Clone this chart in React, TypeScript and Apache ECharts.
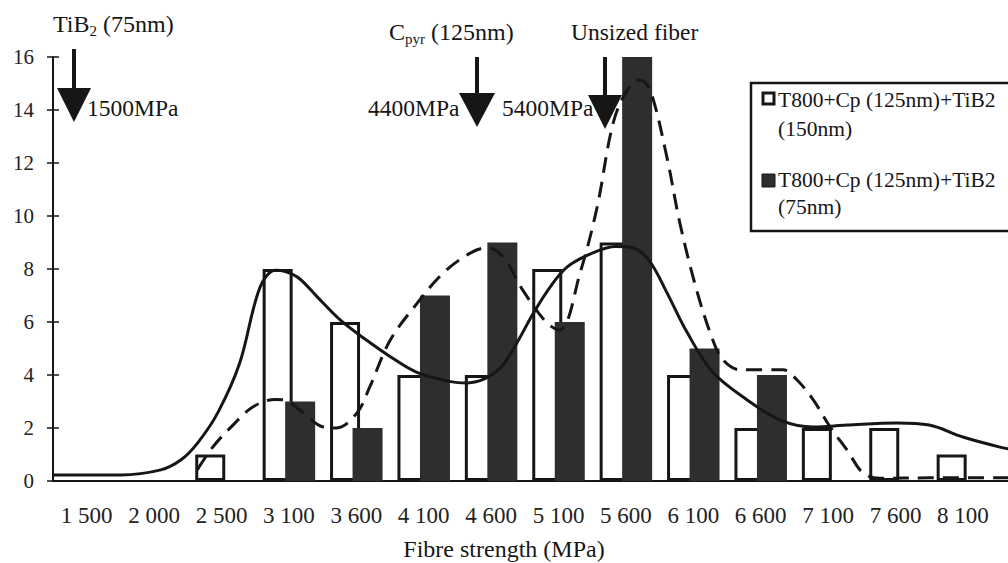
import React, { useEffect, useRef } from "react";
import * as echarts from "echarts";

// ---------- data ----------
const categories = ["1 500", "2 000", "2 500", "3 100", "3 600", "4 100", "4 600", "5 100", "5 600", "6 100", "6 600", "7 100", "7 600", "8 100", ""];
const countTiB150 = [null, null, 1, 8, 6, 4, 4, 8, 9, 4, 2, 2, 2, 1, null];
const countTiB75 = [null, null, null, 3, 2, 7, 9, 6, 16, 5, 4, null, null, null, null];

// fitted distributions, [category position, count]
const fitTiB150 = [
  [0, 0.23], [1.0, 0.23], [1.6, 0.42], [1.9, 0.8], [2.15, 1.45], [2.45, 2.6], [2.77, 4.45],
  [3.07, 7.3], [3.3, 7.95], [3.45, 7.9], [3.65, 7.65], [3.92, 6.95], [4.26, 6.08], [4.66, 5.3],
  [5.0, 4.7], [5.4, 4.1], [5.9, 3.75], [6.15, 3.7], [6.4, 3.85], [6.65, 4.3], [6.88, 5.2],
  [7.12, 6.3], [7.37, 7.3], [7.63, 8.08], [8.0, 8.6], [8.35, 8.85], [8.6, 8.8], [8.85, 8.3],
  [9.11, 7.1], [9.41, 5.6], [9.79, 4.1], [10.3, 3.06], [10.79, 2.3], [11.28, 2.04], [11.78, 2.11],
  [12.52, 2.19], [13.0, 2.11], [13.5, 1.66], [14.05, 1.28], [14.3, 1.15],
];
const fitTiB75 = [
  [2.14, 0.42], [2.37, 1.28], [2.67, 2.11], [2.97, 2.8], [3.3, 3.08], [3.45, 3.05], [3.66, 2.68],
  [4.01, 2.04], [4.21, 2.0], [4.51, 2.57], [4.7, 3.55], [5.0, 5.3], [5.4, 6.7], [5.79, 7.85],
  [6.19, 8.6], [6.44, 8.8], [6.68, 8.45], [6.97, 7.2], [7.33, 5.96], [7.52, 5.7], [7.82, 7.85],
  [8.07, 10.3], [8.31, 13.5], [8.52, 14.75], [8.71, 15.13], [8.86, 14.75], [9.11, 12.2],
  [9.3, 9.74], [9.55, 7.2], [9.79, 5.32], [9.94, 4.57], [10.19, 4.2], [10.53, 4.2], [10.83, 4.2],
  [11.04, 3.81], [11.28, 3.06], [11.53, 2.04], [11.78, 1.17], [12.02, 0.3], [12.27, 0.1],
  [13.0, 0.12], [14.3, 0.12],
];

const yMin = 0;
const yMax = 16;
const yStep = 2;

const seriesNames = ["T800+Cp (125nm)+TiB2 (150nm)", "T800+Cp (125nm)+TiB2 (75nm)"];
const legendLines = [["T800+Cp (125nm)+TiB2", "(150nm)"], ["T800+Cp (125nm)+TiB2", "(75nm)"]];
const xAxisTitle = "Fibre strength (MPa)";

const FONT = "'Liberation Serif', 'Times New Roman', serif";
const INK = "#161616";
const BAR_DARK = "#2e2e2e";

export default function App() {
  const ref = useRef<HTMLDivElement>(null);

  useEffect(() => {
    if (!ref.current) return;
    document.body.style.overflow = "hidden";
    const chart = echarts.init(ref.current, null, { renderer: "svg" });

    const txt = (text: string, x: number, y: number, size: number, extra: any = {}) => ({
      type: "text",
      z: 60,
      style: { text, x, y, fontSize: size, fontFamily: FONT, fill: INK, verticalAlign: "middle", ...extra },
    });
    const arrow = (x: number, yTop: number, yHead: number, half: number, yTip: number) => [
      { type: "line", z: 60, shape: { x1: x, y1: yTop, x2: x, y2: yHead + 2 }, style: { stroke: INK, lineWidth: 4 } },
      { type: "polygon", z: 60, shape: { points: [[x - half, yHead], [x + half, yHead], [x, yTip]] }, style: { fill: INK } },
    ];
    const subRich = {
      a: { fontSize: 24, fontFamily: FONT, fill: INK, lineHeight: 28 },
      s: { fontSize: 15, fontFamily: FONT, fill: INK, lineHeight: 15, verticalAlign: "bottom" },
    };

    const option: any = {
      animation: false,
      backgroundColor: "#ffffff",
      grid: { left: 53, right: 0, top: 57, bottom: 82 },
      xAxis: [
        {
          type: "category",
          data: categories,
          boundaryGap: true,
          axisLine: { lineStyle: { color: INK, width: 2 } },
          axisTick: { interval: 0, length: 9, lineStyle: { color: INK, width: 1.5 } },
          axisLabel: { interval: 0, fontSize: 23, fontFamily: FONT, color: "#222", margin: 23 },
          splitLine: { show: false },
        },
        { type: "value", min: 0, max: 15, show: false },
        {
          type: "category",
          data: categories,
          position: "bottom",
          axisLine: { show: false },
          axisTick: { interval: 0, inside: true, length: 4, lineStyle: { color: INK, width: 1.5 } },
          axisLabel: { show: false },
        },
      ],
      yAxis: [
        {
          type: "value",
          min: yMin,
          max: yMax,
          interval: yStep,
          axisLine: { show: true, lineStyle: { color: INK, width: 2 } },
          axisTick: { show: true, length: 6, lineStyle: { color: INK, width: 1.5 } },
          axisLabel: { fontSize: 21, fontFamily: FONT, color: "#222", margin: 19 },
          splitLine: { show: false },
        },
        {
          type: "value",
          min: yMin,
          max: yMax,
          interval: yStep,
          position: "left",
          offset: 0,
          axisLine: { show: false },
          axisTick: { show: true, inside: true, length: 6, lineStyle: { color: INK, width: 1.5 } },
          axisLabel: { show: false },
          splitLine: { show: false },
        },
      ],
      series: [
        {
          name: seriesNames[0],
          type: "bar",
          xAxisIndex: 0,
          yAxisIndex: 0,
          data: countTiB150,
          barWidth: 30,
          barGap: "-25%",
          itemStyle: { color: "#ffffff", borderColor: INK, borderWidth: 3 },
          z: 2,
        },
        {
          name: seriesNames[1],
          type: "bar",
          xAxisIndex: 0,
          yAxisIndex: 0,
          data: countTiB75,
          barWidth: 30,
          barGap: "-25%",
          itemStyle: { color: BAR_DARK },
          z: 3,
        },
        {
          name: "fit 150nm",
          type: "line",
          xAxisIndex: 1,
          yAxisIndex: 0,
          data: fitTiB150,
          smooth: 0.35,
          showSymbol: false,
          lineStyle: { color: INK, width: 3 },
          z: 5,
        },
        {
          name: "fit 75nm",
          type: "line",
          xAxisIndex: 1,
          yAxisIndex: 0,
          data: fitTiB75,
          smooth: 0.35,
          showSymbol: false,
          lineStyle: { color: INK, width: 3, type: [16, 9] },
          z: 5,
        },
      ],
      graphic: [
        // annotations
        {
          type: "text",
          z: 60,
          style: { text: "{a|TiB}{s|2}{a| (75nm)}", x: 53, y: 24, verticalAlign: "middle", rich: subRich },
        },
        ...arrow(74, 49, 88, 17, 122),
        txt("1500MPa", 87, 108, 23.5),
        {
          type: "text",
          z: 60,
          style: { text: "{a|C}{s|pyr}{a| (125nm)}", x: 389, y: 32, verticalAlign: "middle", rich: subRich },
        },
        txt("4400MPa", 368, 108, 23.5),
        txt("5400MPa", 502, 108, 23.5),
        ...arrow(477, 57, 93, 18, 127),
        txt("Unsized fiber", 571, 32, 23.5),
        ...arrow(605, 57, 95, 17, 129),
        // axis title
        txt(xAxisTitle, 504, 549, 24, { align: "center" }),
        // legend
        {
          type: "rect",
          z: 55,
          shape: { x: 751, y: 83, width: 280, height: 148 },
          style: { fill: "#ffffff", stroke: INK, lineWidth: 2.5 },
        },
        {
          type: "rect",
          z: 60,
          shape: { x: 763, y: 93, width: 11, height: 11 },
          style: { fill: "#ffffff", stroke: INK, lineWidth: 3 },
        },
        txt(legendLines[0][0], 778, 100, 21.5),
        txt(legendLines[0][1], 778, 129, 21.5),
        {
          type: "rect",
          z: 60,
          shape: { x: 762, y: 174, width: 13, height: 13 },
          style: { fill: BAR_DARK, stroke: INK, lineWidth: 1 },
        },
        txt(legendLines[1][0], 778, 180, 21.5),
        txt(legendLines[1][1], 778, 207, 21.5),
      ],
    };

    chart.setOption(option);
    return () => chart.dispose();
  }, []);

  return (
    <div
      ref={ref}
      style={{ position: "fixed", left: 0, top: 0, width: 1064, height: 563, background: "#fff" }}
    />
  );
}
